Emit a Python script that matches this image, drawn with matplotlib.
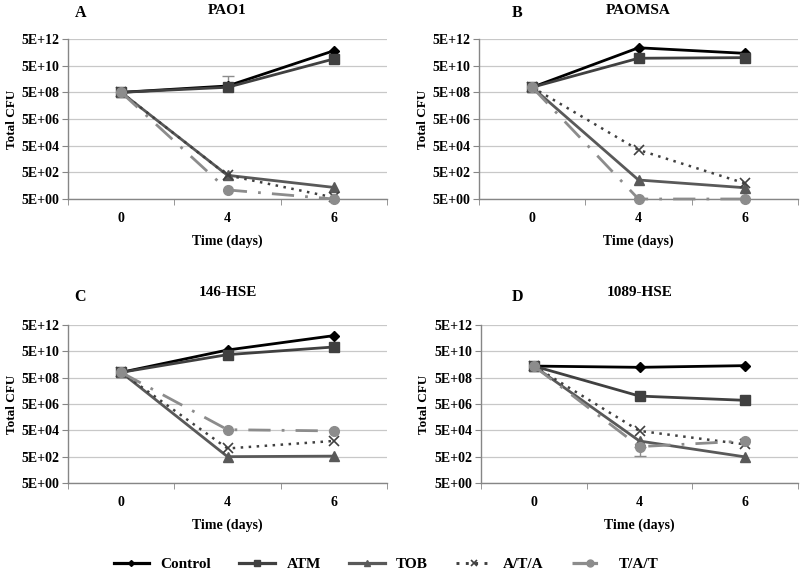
import matplotlib
matplotlib.use("Agg")
import matplotlib.pyplot as plt
import numpy as np
from matplotlib.ticker import FixedLocator, FuncFormatter
from matplotlib.lines import Line2D

plt.rcParams['font.family'] = ['Liberation Serif', 'DejaVu Serif']
plt.rcParams['font.weight'] = 'bold'

days = ["0", "4", "6"]
series_names = ["Control", "ATM", "TOB", "A/T/A", "T/A/T"]
panel_letters = ["A", "B", "C", "D"]
panel_titles = ["PAO1", "PAOMSA", "146-HSE", "1089-HSE"]

# Total CFU values (days 0, 4, 6)
pao1 = {
    "Control": [5e8, 1.5e9, 6.6e11],
    "ATM":     [5e8, 1.2e9, 1.6e11],
    "TOB":     [5e8, 300, 37],
    "A/T/A":   [5e8, 300, 6.5],
    "T/A/T":   [5e8, 24, 5],
}
paomsa = {
    "Control": [1.2e9, 1.1e12, 4.2e11],
    "ATM":     [1.2e9, 1.8e11, 2.0e11],
    "TOB":     [1.2e9, 133, 35],
    "A/T/A":   [1.2e9, 2.4e4, 75],
    "T/A/T":   [1.2e9, 5, 5],
}
hse146 = {
    "Control": [1.27e9, 6.3e10, 7.8e11],
    "ATM":     [1.27e9, 2.8e10, 1.07e11],
    "TOB":     [1.27e9, 500, 550],
    "A/T/A":   [1.27e9, 2.1e3, 7.8e3],
    "T/A/T":   [1.27e9, 5.6e4, 4.5e4],
}
hse1089 = {
    "Control": [3.8e9, 3.05e9, 4.1e9],
    "ATM":     [3.8e9, 2.0e7, 9.5e6],
    "TOB":     [3.8e9, 7.7e3, 480],
    "A/T/A":   [3.8e9, 4.5e4, 4.3e3],
    "T/A/T":   [3.8e9, 2.9e3, 7.7e3],
}
panels_data = [pao1, paomsa, hse146, hse1089]

# visible error bars: (panel, series, day index, lower, upper)
error_bars = [
    (0, "Control", 1, 1.5e9, 8.3e9),
    (3, "T/A/T", 1, 5.5e2, 2.9e3),
]

styles = {
    "Control": dict(color="#000000", marker="D", ms=5, ls="-", lw=2.0),
    "ATM":     dict(color="#404040", marker="s", ms=7, ls="-", lw=2.0),
    "TOB":     dict(color="#595959", marker="^", ms=7, ls="-", lw=2.0),
    "A/T/A":   dict(color="#404040", marker="x", ms=7, ls=(0, (1, 2.2)), lw=1.8, mew=1.2),
    "T/A/T":   dict(color="#8c8c8c", marker="o", ms=7, ls=(0, (8, 4, 1, 4)), lw=2.0),
}

W, H = 800, 573
fig = plt.figure(figsize=(8, 5.73), dpi=100)

# axes rectangles in pixels (left, top, right, bottom)
rects = [(68, 39, 387, 199), (479, 39, 798, 199),
         (68, 325, 387, 483), (481, 325, 798, 483)]
letter_pos = [(81, 13), (517, 13), (80, 297), (517, 297)]
title_pads = [18, 18, 21, 21]

ticks_y = [5 * 10.0 ** k for k in range(0, 13, 2)]
x = np.arange(len(days))

for i, (l, t, r, b) in enumerate(rects):
    ax = fig.add_axes([l / W, 1 - b / H, (r - l) / W, (b - t) / H])
    ax.set_yscale("log")
    ax.set_ylim(5, 5e12)
    ax.set_xlim(-0.5, 2.5)
    ax.yaxis.set_major_locator(FixedLocator(ticks_y))
    ax.yaxis.set_minor_locator(FixedLocator([]))
    ax.yaxis.set_major_formatter(FuncFormatter(lambda v, p: "5E+%02d" % int(round(np.log10(v / 5)))))
    ax.set_xticks(x)
    ax.set_xticklabels(days)
    ax.xaxis.set_minor_locator(FixedLocator([-0.5, 0.5, 1.5, 2.5]))
    ax.tick_params(axis="x", which="major", length=0, pad=9, labelsize=10)
    ax.tick_params(axis="x", which="minor", length=4, color="#868686", direction="out")
    ax.tick_params(axis="y", which="major", length=4, color="#868686", labelsize=10, pad=2)
    ax.grid(axis="y", color="#c8c8c8", lw=0.9)
    ax.set_axisbelow(True)
    for s in ["top", "right"]:
        ax.spines[s].set_visible(False)
    for s in ["left", "bottom"]:
        ax.spines[s].set_color("#868686")
        ax.spines[s].set_linewidth(1.0)
    ax.set_xlabel("Time (days)", fontsize=10, fontweight="bold", labelpad=7)
    ax.set_ylabel("Total CFU", fontsize=9.5, fontweight="bold", labelpad=3)
    ax.set_title(panel_titles[i], fontsize=11, fontweight="bold", pad=title_pads[i])

    data = panels_data[i]
    for z, name in enumerate(series_names):
        st = dict(styles[name])
        ax.plot(x, data[name], clip_on=False, zorder=3 + z, **st)
    for (pi, name, di, lo, hi) in error_bars:
        if pi == i:
            v = data[name][di]
            ax.errorbar([x[di]], [v], yerr=[[v - lo], [hi - v]], fmt="none",
                        ecolor="#8c8c8c", elinewidth=1.0, capsize=4, zorder=2)

    lx, ly = letter_pos[i]
    fig.text(lx / W, 1 - ly / H, panel_letters[i], fontsize=11.5, fontweight="bold",
             ha="center", va="center")

handles = []
for name in series_names:
    st = dict(styles[name])
    st["ms"] = st["ms"] - 2
    st["lw"] = st["lw"] + 0.3
    handles.append(Line2D([], [], **st))
fig.legend(handles, series_names, loc="center", bbox_to_anchor=(386 / W, 1 - 564 / H),
           ncol=5, frameon=False, handlelength=2.35, handletextpad=0.72,
           columnspacing=1.85, prop={"weight": "bold", "size": 11})

fig.savefig("out.png", dpi=100)
